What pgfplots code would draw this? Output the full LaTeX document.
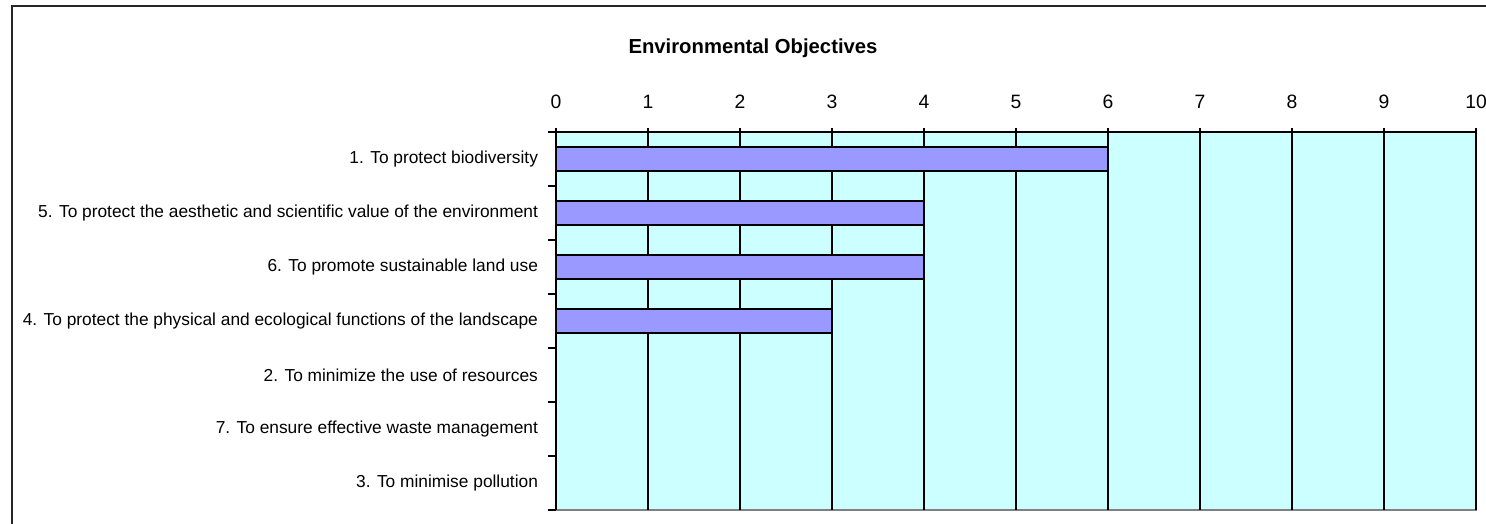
\documentclass[border=0pt]{standalone}
\usepackage{pgfplots}
\pgfplotsset{compat=1.18}
\usepackage{fontspec}
\setmainfont{Liberation Sans}
\definecolor{barfill}{HTML}{9999FF}
\definecolor{plotbg}{HTML}{CCFFFF}
\definecolor{bordergray}{HTML}{808080}
\begin{document}
\begin{tikzpicture}
\useasboundingbox (0,0) rectangle (1114.5pt,393pt);
\draw[line width=1.5pt, black!85] (9pt,-5pt) -- (9pt,388.5pt) -- (1120pt,388.5pt);
\node[font=\bfseries\fontsize{15.2}{17}\selectfont] at (564.75pt,357pt) {Environmental Objectives};
\begin{axis}[
  at={(417pt,10.5pt)}, anchor=south west,
  scale only axis, width=690pt, height=283.5pt,
  xmin=0, xmax=10, ymin=-0.5, ymax=6.5,
  axis x line*=top, axis y line*=left,
  axis line style={black, line width=1.2pt},
  axis background/.style={fill=plotbg, draw=bordergray, line width=1.2pt},
  xtick={0,...,10},
  ytick={0,...,6},
  yticklabels={3. To minimise pollution, 7. To ensure effective waste management, 2. To minimize the use of resources, 4. To protect the physical and ecological functions of the landscape, 6. To promote sustainable land use, 5. To protect the aesthetic and scientific value of the environment, 1. To protect biodiversity},
  minor ytick={-0.5,0.5,...,6.5},
  tick align=outside,
  major tick length=3pt, minor tick length=6pt,
  major y tick style={draw=none},
  tick style={black, line width=0.9pt},
  xmajorgrids, grid style={black, line width=1pt},
  /pgf/number format/assume math mode=true,
  xticklabel style={font=\fontsize{14.5}{16}\selectfont},
  yticklabel style={font=\fontsize{13}{15}\selectfont},
  xticklabel shift=11pt,
  yticklabel shift=7pt,
  xbar, bar width=18pt,
]
\addplot[fill=barfill, draw=black, line width=0.9pt] coordinates {(6,6) (4,5) (4,4) (3,3)};
\end{axis}
\end{tikzpicture}
\end{document}
